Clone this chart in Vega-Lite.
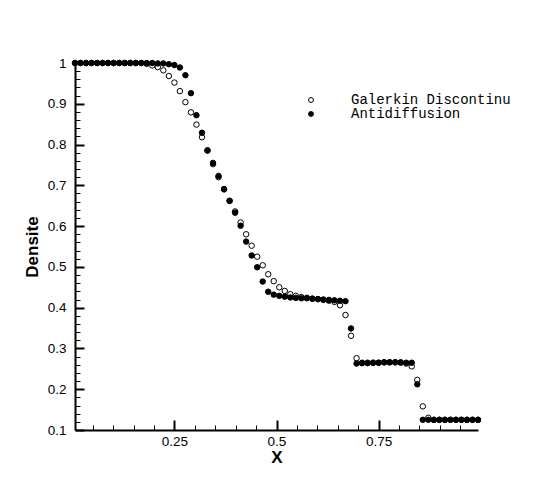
{
  "$schema": "https://vega.github.io/schema/vega-lite/v6.json",
  "width": 403,
  "height": 367,
  "autosize": {"type": "none"},
  "padding": {"left": 75, "top": 63, "right": 57, "bottom": 50},
  "background": "white",
  "config": {
    "view": {"stroke": null},
    "axis": {"labelFont": "Liberation Sans", "labelFontSize": 13.5, "labelColor": "black", "titleFont": "Liberation Sans", "titleFontSize": 17, "titleFontWeight": "bold", "titleColor": "black", "grid": false, "domainColor": "black"}
  },
  "data": {"values": [
    {"x":0.00676,"G":1,"A":1},{"x":0.02027,"G":1,"A":1},{"x":0.03378,"G":1,"A":1},{"x":0.0473,"G":1,"A":1},
    {"x":0.06081,"G":1,"A":1},{"x":0.07432,"G":1,"A":1},{"x":0.08784,"G":1,"A":1},{"x":0.10135,"G":1,"A":1},
    {"x":0.11486,"G":1,"A":1},{"x":0.12838,"G":1,"A":1},{"x":0.14189,"G":1,"A":1},{"x":0.1554,"G":1,"A":1},
    {"x":0.16892,"G":1,"A":1},{"x":0.18243,"G":0.998,"A":1},{"x":0.19595,"G":0.994,"A":1},{"x":0.20946,"G":0.99,"A":0.999},
    {"x":0.22297,"G":0.982,"A":0.999},{"x":0.23649,"G":0.968,"A":0.997},{"x":0.25,"G":0.952,"A":0.995},{"x":0.26351,"G":0.931,"A":0.989},
    {"x":0.27703,"G":0.904,"A":0.97},{"x":0.29054,"G":0.879,"A":0.926},{"x":0.30405,"G":0.849,"A":0.872},{"x":0.31757,"G":0.818,"A":0.829},
    {"x":0.33108,"G":0.785,"A":0.786},{"x":0.34459,"G":0.752,"A":0.755},{"x":0.35811,"G":0.72,"A":0.723},{"x":0.37162,"G":0.69,"A":0.691},
    {"x":0.38514,"G":0.662,"A":0.662},{"x":0.39865,"G":0.636,"A":0.633},{"x":0.41216,"G":0.609,"A":0.601},{"x":0.42568,"G":0.58,"A":0.562},
    {"x":0.43919,"G":0.552,"A":0.528},{"x":0.4527,"G":0.525,"A":0.499},{"x":0.46622,"G":0.504,"A":0.464},{"x":0.47973,"G":0.482,"A":0.439},
    {"x":0.49324,"G":0.465,"A":0.432},{"x":0.50676,"G":0.45,"A":0.429},{"x":0.52027,"G":0.441,"A":0.427},{"x":0.53378,"G":0.433,"A":0.425},
    {"x":0.5473,"G":0.429,"A":0.424},{"x":0.56081,"G":0.426,"A":0.423},{"x":0.57432,"G":0.424,"A":0.423},{"x":0.58784,"G":0.422,"A":0.422},
    {"x":0.60135,"G":0.421,"A":0.421},{"x":0.61486,"G":0.419,"A":0.42},{"x":0.62838,"G":0.417,"A":0.419},{"x":0.64189,"G":0.414,"A":0.418},
    {"x":0.6554,"G":0.406,"A":0.417},{"x":0.66892,"G":0.382,"A":0.416},{"x":0.68243,"G":0.331,"A":0.349},{"x":0.69595,"G":0.276,"A":0.263},
    {"x":0.70946,"G":0.265,"A":0.264},{"x":0.72297,"G":0.265,"A":0.264},{"x":0.73649,"G":0.265,"A":0.265},{"x":0.75,"G":0.265,"A":0.265},
    {"x":0.76351,"G":0.266,"A":0.266},{"x":0.77703,"G":0.266,"A":0.266},{"x":0.79054,"G":0.266,"A":0.266},{"x":0.80405,"G":0.265,"A":0.266},
    {"x":0.81757,"G":0.263,"A":0.265},{"x":0.83108,"G":0.256,"A":0.265},{"x":0.84459,"G":0.223,"A":0.212},{"x":0.85811,"G":0.158,"A":0.125},
    {"x":0.87162,"G":0.13,"A":0.125},{"x":0.88514,"G":0.125,"A":0.125},{"x":0.89865,"G":0.125,"A":0.125},{"x":0.91216,"G":0.125,"A":0.125},
    {"x":0.92568,"G":0.125,"A":0.125},{"x":0.93919,"G":0.125,"A":0.125},{"x":0.9527,"G":0.125,"A":0.125},{"x":0.96622,"G":0.125,"A":0.125},
    {"x":0.97973,"G":0.125,"A":0.125},{"x":0.99324,"G":0.125,"A":0.125}
  ]},
  "transform": [{"fold": ["G", "A"], "as": ["s", "v"]}],
  "layer": [
    {
      "mark": {"type": "tick", "opacity": 0},
      "encoding": {
        "x": {"field": "x", "type": "quantitative", "scale": {"domain": [0.00676, 0.99324], "nice": false, "zero": false},
              "axis": {"values": [0.05, 0.1, 0.15, 0.2, 0.3, 0.35, 0.4, 0.45, 0.55, 0.6, 0.65, 0.7, 0.8, 0.85, 0.9, 0.95], "orient": "bottom", "labels": false, "domain": false, "title": null, "ticks": true, "tickColor": "black", "tickSize": -5, "tickWidth": 1}},
        "y": {"field": "v", "type": "quantitative", "scale": {"domain": [0.1, 1], "nice": false, "zero": false},
              "axis": {"values": [0.12, 0.14, 0.16, 0.18, 0.22, 0.24, 0.26, 0.28, 0.32, 0.34, 0.36, 0.38, 0.42, 0.44, 0.46, 0.48, 0.52, 0.54, 0.56, 0.58, 0.62, 0.64, 0.66, 0.68, 0.72, 0.74, 0.76, 0.78, 0.82, 0.84, 0.86, 0.88, 0.92, 0.94, 0.96, 0.98], "orient": "left", "labels": false, "domain": false, "title": null, "ticks": true, "tickColor": "black", "tickSize": -5, "tickWidth": 1}}
      }
    },
    {
      "mark": {"type": "point", "shape": "circle", "opacity": 1, "stroke": "black", "strokeWidth": 1, "size": 30},
      "encoding": {
        "x": {"field": "x", "type": "quantitative",
              "axis": {"orient": "bottom", "values": [0.25, 0.5, 0.75], "format": ".2~f", "title": "X", "domainWidth": 2, "ticks": true, "tickColor": "black", "tickWidth": 2, "tickSize": -10, "labelPadding": 14, "titlePadding": 2}},
        "y": {"field": "v", "type": "quantitative",
              "axis": {"orient": "left", "values": [0.1, 0.2, 0.3, 0.4, 0.5, 0.6, 0.7, 0.8, 0.9, 1], "format": ".1~f", "title": "Densite", "domainWidth": 2, "ticks": true, "tickColor": "black", "tickWidth": 2, "tickSize": -9, "labelPadding": 18, "titlePadding": 6}},
        "fill": {"field": "s", "type": "nominal", "scale": {"domain": ["G", "A"], "range": ["white", "black"]},
                 "legend": {"orient": "none", "legendX": 229, "legendY": 30, "title": null, "padding": 0, "labelFont": "Liberation Mono", "labelFontSize": 14, "labelColor": "black", "labelOffset": 33, "symbolSize": 24, "symbolStrokeColor": "black", "symbolStrokeWidth": 1, "rowPadding": 0,
                            "labelExpr": "datum.value == 'G' ? 'Galerkin Discontinu' : 'Antidiffusion'"}},
        "order": {"field": "s", "sort": "descending"}
      }
    }
  ],
  "resolve": {"axis": {"x": "independent", "y": "independent"}}
}
